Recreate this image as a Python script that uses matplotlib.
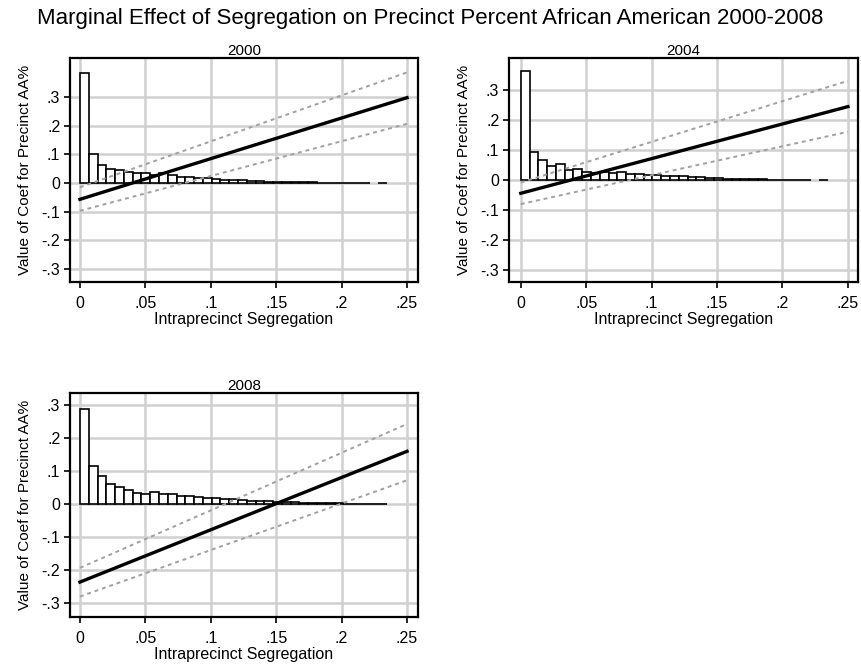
#!/usr/bin/env python3

## plot.py
# Marginal effect of segregation, three panels (2000, 2004, 2008)

import numpy as np
import matplotlib
matplotlib.use('Agg')
import matplotlib.pyplot as plt

## Data

YEARS = ['2000', '2004', '2008']
BIN_WIDTH = 0.00671     # histogram bin width of segregation
N_BINS = 35

# histogram heights (density, rescaled to the coef axis); nan = empty bin
HIST_2000 = [0.382, 0.100, 0.064, 0.047, 0.046, 0.038, 0.035, 0.035, 0.027, 0.034,
             0.028, 0.022, 0.020, 0.019, 0.018, 0.014, 0.012, 0.011, 0.009, 0.008,
             0.006, 0.005, 0.004, 0.003, 0.003, 0.002, 0.002, 0.001, 0.001, 0.001,
             0.0, 0.0, 0.0, np.nan, 0.0]
HIST_2004 = [0.365, 0.094, 0.068, 0.047, 0.053, 0.034, 0.038, 0.028, 0.025, 0.027,
             0.022, 0.026, 0.020, 0.019, 0.018, 0.018, 0.015, 0.014, 0.012, 0.010,
             0.009, 0.007, 0.006, 0.005, 0.004, 0.003, 0.003, 0.002, 0.001, 0.001,
             0.001, 0.0, 0.0, np.nan, 0.0]
HIST_2008 = [0.287, 0.115, 0.085, 0.062, 0.052, 0.044, 0.033, 0.030, 0.036, 0.031,
             0.029, 0.024, 0.024, 0.022, 0.018, 0.017, 0.015, 0.014, 0.012, 0.010,
             0.009, 0.008, 0.007, 0.006, 0.005, 0.004, 0.004, 0.003, 0.002, 0.002,
             0.001, 0.001, 0.001, 0.001, 0.001]

# marginal effect line and 95% bounds at segregation = 0 and .25
SEG_ENDS   = [0.0, 0.25]
COEF_2000  = [-0.057, 0.297]
UPPER_2000 = [-0.015, 0.385]
LOWER_2000 = [-0.097, 0.206]
COEF_2004  = [-0.044, 0.245]
UPPER_2004 = [-0.008, 0.331]
LOWER_2004 = [-0.080, 0.161]
COEF_2008  = [-0.237, 0.160]
UPPER_2008 = [-0.194, 0.243]
LOWER_2008 = [-0.281, 0.072]

XTICKS = [0, 0.05, 0.1, 0.15, 0.2, 0.25]
XTICKLABELS = ['0', '.05', '.1', '.15', '.2', '.25']
YTICKS = [-0.3, -0.2, -0.1, 0, 0.1, 0.2, 0.3]
YTICKLABELS = ['-.3', '-.2', '-.1', '0', '.1', '.2', '.3']

TITLE = 'Marginal Effect of Segregation on Precinct Percent African American 2000-2008'
XLABEL = 'Intraprecinct Segregation'
YLABEL = 'Value of Coef for Precinct AA%'

## Layout (figure fractions) and limits for each panel
PANELS = [
    ([0.0813, 0.5759, 0.4042, 0.3368], (-0.0076, 0.2584), (-0.345, 0.435)),
    ([0.5912, 0.5759, 0.4053, 0.3368], (-0.0090, 0.2577), (-0.340, 0.407)),
    ([0.0813, 0.0722, 0.4042, 0.3368], (-0.0076, 0.2584), (-0.343, 0.337)),
]

plt.rcParams['font.family'] = ['Liberation Sans', 'DejaVu Sans']


def draw_panel(fig, spec, year, hist, coef, upper, lower):
    rect, xlim, ylim = spec
    ax = fig.add_axes(rect)
    edges = np.arange(N_BINS) * BIN_WIDTH
    hist = np.array(hist, dtype=float)
    keep = ~np.isnan(hist)
    ax.bar(edges[keep], hist[keep], width=BIN_WIDTH, align='edge',
           color='white', edgecolor='black', linewidth=1.2, zorder=2)
    ax.plot(SEG_ENDS, coef, color='black', linewidth=2.4, zorder=4)
    ax.plot(SEG_ENDS, upper, color='#a0a0a0', linewidth=1.4, linestyle=(0, (2, 2)), zorder=3)
    ax.plot(SEG_ENDS, lower, color='#a0a0a0', linewidth=1.4, linestyle=(0, (2, 2)), zorder=3)

    ax.set_xlim(*xlim)
    ax.set_ylim(*ylim)
    ax.set_xticks(XTICKS)
    ax.set_xticklabels(XTICKLABELS)
    ax.set_yticks(YTICKS)
    ax.set_yticklabels(YTICKLABELS)
    ax.grid(True, color='#d0d0d0', linewidth=1.8, zorder=0)
    ax.set_axisbelow(True)
    ax.tick_params(direction='out', length=4, width=1.2, labelsize=11.5)
    ax.tick_params(axis='x', pad=6)
    ax.tick_params(axis='y', pad=3)
    for sp in ax.spines.values():
        sp.set_linewidth(1.6)
        sp.set_color('black')
    ax.set_title(year, fontsize=11, pad=2)
    ax.set_xlabel(XLABEL, fontsize=11.5, labelpad=1)
    ax.set_ylabel(YLABEL, fontsize=11, labelpad=7)
    return ax


def main():
    fig = plt.figure(figsize=(8.61, 6.65), dpi=100)
    draw_panel(fig, PANELS[0], YEARS[0], HIST_2000, COEF_2000, UPPER_2000, LOWER_2000)
    draw_panel(fig, PANELS[1], YEARS[1], HIST_2004, COEF_2004, UPPER_2004, LOWER_2004)
    draw_panel(fig, PANELS[2], YEARS[2], HIST_2008, COEF_2008, UPPER_2008, LOWER_2008)
    fig.text(0.5, 0.972, TITLE, ha='center', va='center', fontsize=16)
    fig.savefig('out.png', dpi=100)


if __name__ == '__main__':
    main()
